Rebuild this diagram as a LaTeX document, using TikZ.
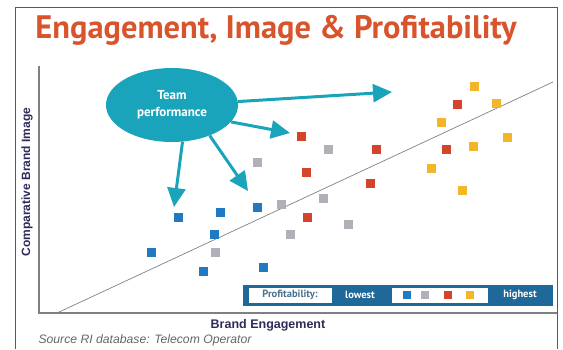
\documentclass[tikz,border=0pt]{standalone}
\usepackage{fontspec}
\setsansfont{PT Sans}
\newfontfamily\axisfont{Liberation Sans}
\usetikzlibrary{shapes.geometric,arrows.meta}
\definecolor{teal}{RGB}{26,164,188}
\definecolor{titlered}{RGB}{216,84,44}
\definecolor{navy}{RGB}{44,43,90}
\definecolor{pblue}{RGB}{33,121,193}
\definecolor{pgrey}{RGB}{176,176,184}
\definecolor{pred}{RGB}{211,68,42}
\definecolor{pyellow}{RGB}{243,182,40}
\definecolor{legblue}{RGB}{30,104,154}
\begin{document}
\begin{tikzpicture}
  [x=1pt,y=-1pt,font=\sffamily,
   sq/.style={rectangle,minimum size=9pt,inner sep=0pt},
   legtext/.style={text=white,font=\sffamily\bfseries\fontsize{10.5}{11}\selectfont},
   arr/.style={draw=teal,line width=3pt,-{Triangle[length=19pt,width=18pt]}}]
  \useasboundingbox (0,0) rectangle (563,349);
  % frame
  \draw[gray!70!black,line width=1pt] (15,349) -- (15,7) -- (557,7) -- (557,349);
  \node[text=titlered,font=\sffamily\bfseries\fontsize{32.5}{33}\selectfont] (title) at (276,30) {Engagement, Image \& Profitability};

  % axes
  \draw[gray,line width=1.5pt] (39,66) -- (39,313) -- (557,313);
  \draw[gray,line width=0.7pt] (57,313) -- (553,82);
  \node[rotate=90,text=navy,font=\axisfont\bfseries\fontsize{12}{12}\selectfont] (ylab) at (27,182) {Comparative Brand Image};
  \node[text=navy,font=\axisfont\bfseries\fontsize{12.5}{12}\selectfont] (xlab) at (268,325) {Brand Engagement};
  \node[text=gray!80!black,font=\axisfont\itshape\fontsize{12.2}{12}\selectfont,anchor=west] (src) at (35,340) {Source RI database: Telecom Operator};

  % data points
  \foreach \x/\y/\c [count=\i] in {178/217/pblue,220/212/pblue,257/207/pblue,214/234/pblue,151/252/pblue,203/271/pblue,263/267/pblue,
      281/204/pgrey,257/162/pgrey,215/252/pgrey,290/234/pgrey,328/149/pgrey,323/198/pgrey,348/224/pgrey,
      301/136/pred,376/149/pred,306/172/pred,370/183/pred,307/217/pred,457/104/pred,446/149/pred,
      474/86/pyellow,496/103/pyellow,441/122/pyellow,473/146/pyellow,507/137/pyellow,431/168/pyellow,462/190/pyellow}
    \node[sq,fill=\c] (p\i) at (\x,\y) {};

  % team performance
  \node[ellipse,fill=teal,text=white,minimum width=132pt,minimum height=74pt,align=center,
        font=\sffamily\bfseries\fontsize{13}{17}\selectfont] (tp) at (172,105) {Team\\performance};
  \coordinate (t1) at (392,92);
  \coordinate (t2) at (290,133);
  \coordinate (t3) at (248,191);
  \coordinate (t4) at (174,207);
  \foreach \a/\to in {3/t1,-16/t2,-39/t3,-74/t4}
    \draw[arr] (tp.\a) -- (\to);

  % legend
  \node[fill=legblue,minimum width=310pt,minimum height=21pt,inner sep=0pt] (leg) at (398,295) {};
  \node[fill=white,minimum width=83pt,minimum height=15pt,inner sep=0pt,legtext,text=legblue!55!gray] (prof) at (290,295) {Profitability:};
  \node[legtext] (low) at (360,295) {lowest};
  \node[fill=white,minimum width=96pt,minimum height=15pt,inner sep=0pt] (scale) at (440,295) {};
  \node[legtext] (high) at (520,295) {highest};
  \foreach \x/\c [count=\i] in {407/pblue,425/pgrey,448/pred,470/pyellow}
    \node[sq,minimum size=8pt,fill=\c] (l\i) at (\x,295) {};
\end{tikzpicture}
\end{document}
